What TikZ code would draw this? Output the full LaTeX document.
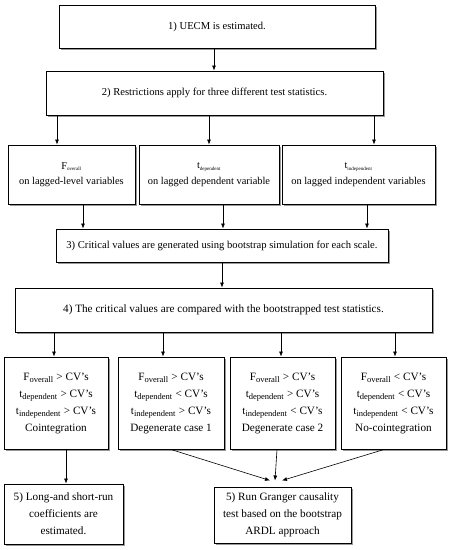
\documentclass[tikz,border=0pt]{standalone}
\usepackage{fontspec}
\setmainfont{Liberation Serif}
\usetikzlibrary{positioning,shadows,arrows.meta}

\newcommand{\sub}[1]{\textsubscript{\fontsize{8.5}{9}\selectfont #1}}

\tikzset{
  box/.style={draw, line width=1pt, fill=white, align=center, inner sep=1pt,
    font=\fontsize{10.6}{16.5}\selectfont,
    drop shadow={shadow xshift=1.8pt, shadow yshift=-1.8pt, fill=black!40, opacity=1}},
  casebox/.style={box, minimum height=92pt, font=\fontsize{11.2}{17}\selectfont},
  arr/.style={-{Latex[length=5pt,width=4pt]}, line width=0.6pt},
}

\begin{document}
\begin{tikzpicture}[x=1pt,y=-1pt]
\useasboundingbox (0,0) rectangle (449,550);

  % Define nodes
\node[box, minimum width=316pt, minimum height=43pt] (uecm) at (217,26.5) {1) UECM is estimated.};
\node[box, minimum width=337pt, minimum height=44pt, below=22pt of uecm, xshift=-2.5pt] (restr) {2) Restrictions apply for three different test statistics.};
\node[box, minimum width=127pt, minimum height=59pt, font=\fontsize{10.4}{15.5}\selectfont] (fov) at (71.5,174.5) {F\textsubscript{\tiny overall}\\on lagged-level variables};
\node[box, minimum width=140pt, minimum height=59pt, font=\fontsize{10.4}{15.5}\selectfont, right=3pt of fov] (tdep) {t\textsubscript{\tiny dependent}\\on lagged dependent variable};
\node[box, minimum width=153pt, minimum height=59pt, font=\fontsize{10.4}{15.5}\selectfont, right=2pt of tdep] (tind) {t\textsubscript{\tiny independent}\\on lagged independent variables};
\node[box, minimum width=332pt, minimum height=33pt] (crit) at (222,245.5) {3) Critical values are generated using bootstrap simulation for each scale.};
\node[box, minimum width=417pt, minimum height=44pt, below=25pt of crit, xshift=1.5pt, font=\fontsize{11.2}{16.5}\selectfont] (comp) {4) The critical values are compared with the bootstrapped test statistics.};
\node[casebox, minimum width=104pt] (coint) at (56,403) {F\sub{overall} > CV’s\\t\sub{dependent} > CV’s\\t\sub{independent} > CV’s\\Cointegration};
\node[casebox, minimum width=106pt, right=9pt of coint] (deg1) {F\sub{overall} > CV’s\\t\sub{dependent} < CV’s\\t\sub{independent} > CV’s\\Degenerate case 1};
\node[casebox, minimum width=105pt, right=5pt of deg1] (deg2) {F\sub{overall} > CV’s\\t\sub{dependent} > CV’s\\t\sub{independent} < CV’s\\Degenerate case 2};
\node[casebox, minimum width=105pt, right=5pt of deg2] (nocoint) {F\sub{overall} < CV’s\\t\sub{dependent} < CV’s\\t\sub{independent} < CV’s\\No-cointegration};
\node[box, minimum width=119pt, minimum height=60pt, below=34pt of coint, xshift=7.5pt, font=\fontsize{11.2}{17}\selectfont] (longrun) {5) Long-and short-run\\coefficients are\\estimated.};
\node[box, minimum width=137pt, minimum height=56pt, font=\fontsize{11.2}{17}\selectfont] (granger) at (282.5,515) {5) Run Granger causality\\test based on the bootstrap\\ARDL approach};

  % Connect the nodes
\draw[arr] ([xshift=-3pt]uecm.south) -- ([xshift=-3pt]uecm.south |- restr.north);
\draw[arr] ([xshift=-14.5pt]fov.north |- restr.south) -- ([xshift=-14.5pt]fov.north);
\draw[arr] (tdep.north |- restr.south) -- (tdep.north);
\draw[arr] ([xshift=15.5pt]tind.north |- restr.south) -- ([xshift=15.5pt]tind.north);
\draw[arr] ([xshift=11.5pt]fov.south) -- ([xshift=11.5pt]fov.south |- crit.north);
\draw[arr] ([xshift=14pt]tdep.south) -- ([xshift=14pt]tdep.south |- crit.north);
\draw[arr] ([xshift=8.5pt]tind.south) -- ([xshift=8.5pt]tind.south |- crit.north);
\draw[arr] (crit.south) -- (crit.south |- comp.north);
\draw[arr] ([xshift=-2pt]coint.north |- comp.south) -- ([xshift=-2pt]coint.north);
\draw[arr] ([xshift=-8pt]deg1.north |- comp.south) -- ([xshift=-8pt]deg1.north);
\draw[arr] ([xshift=-1.5pt]deg2.north |- comp.south) -- ([xshift=-1.5pt]deg2.north);
\draw[arr] ([xshift=1.5pt]nocoint.north |- comp.south) -- ([xshift=1.5pt]nocoint.north);
\draw[arr] ([xshift=10pt]coint.south) -- ([xshift=10pt]coint.south |- longrun.north);
\draw[arr] (deg1.south) -- ([xshift=-12.5pt,yshift=6pt]granger.north);
\draw[arr] ([xshift=-5.5pt]deg2.south) -- ([xshift=-7.5pt,yshift=6pt]granger.north);
\draw[arr] ([xshift=-9.5pt]nocoint.south) -- ([xshift=-0.5pt,yshift=6pt]granger.north);

\end{tikzpicture}
\end{document}
